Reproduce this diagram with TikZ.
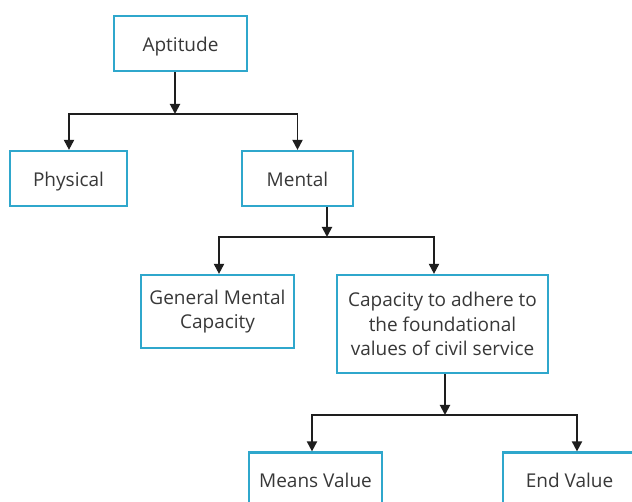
\documentclass[tikz,border=0pt]{standalone}
\usepackage{fontspec}
\setmainfont{Open Sans}
\usetikzlibrary{arrows.meta,calc}
\definecolor{boxblue}{HTML}{2FA7CC}
\definecolor{txt}{HTML}{383838}
\definecolor{lin}{HTML}{1E1E1E}
\tikzset{
  box/.style={draw=boxblue, line width=2.2pt, fill=white, inner sep=0pt, align=center,
    text=txt, font=\fontsize{19}{24.5}\selectfont, minimum height=55pt},
  single/.style={box, text height=19pt, text depth=3.4pt},
  arr/.style={draw=lin, line width=1.9pt, -{Triangle[width=10pt,length=10pt]}},
  ln/.style={draw=lin, line width=1.9pt}
}
\begin{document}
\begin{tikzpicture}[x=1pt,y=-1pt]
\useasboundingbox (0,0) rectangle (632,502);
\clip (0,0) rectangle (632,502);
\fill[white] (0,0) rectangle (632,502);
\node[single, minimum width=133pt] (apt) at (180.5,43.5) {Aptitude};
\node[single, minimum width=117pt] (phys) at (68.5,178.5) {Physical};
\node[single, minimum width=111pt] (ment) at (297.5,178.5) {Mental};
\node[box, minimum width=153pt, minimum height=73pt] (gen) at (217.5,311.5) {General Mental\\Capacity};
\node[box, minimum width=211pt, minimum height=98pt] (cap) at (442.5,324) {Capacity to adhere to\\the foundational\\values of civil service};
\node[single, minimum width=133pt] (means) at (315.5,480) {Means Value};
\node[single, minimum width=133pt] (endv) at (569.5,480) {End Value};
% level 1
\coordinate (j1) at (175,114);
\draw[arr] (apt.south -| j1) -- (j1);
\draw[arr] (j1) -| ($(phys.north)+(0.5,0)$);
\draw[arr] (j1) -| (ment.north);
% level 2
\coordinate (j2) at (327,237);
\draw[arr] (ment.south -| j2) -- (j2);
\draw[arr] (j2) -| ($(gen.north)+(1.5,0)$);
\draw[arr] (j2) -| ($(cap.north)+(-8.5,0)$);
% level 3
\coordinate (j3) at (445,415);
\draw[arr] (cap.south -| j3) -- (j3);
\draw[arr] (j3) -| ($(means.north)+(-3.5,0)$);
\draw[arr] (j3) -| ($(endv.north)+(7.5,0)$);
\end{tikzpicture}
\end{document}
